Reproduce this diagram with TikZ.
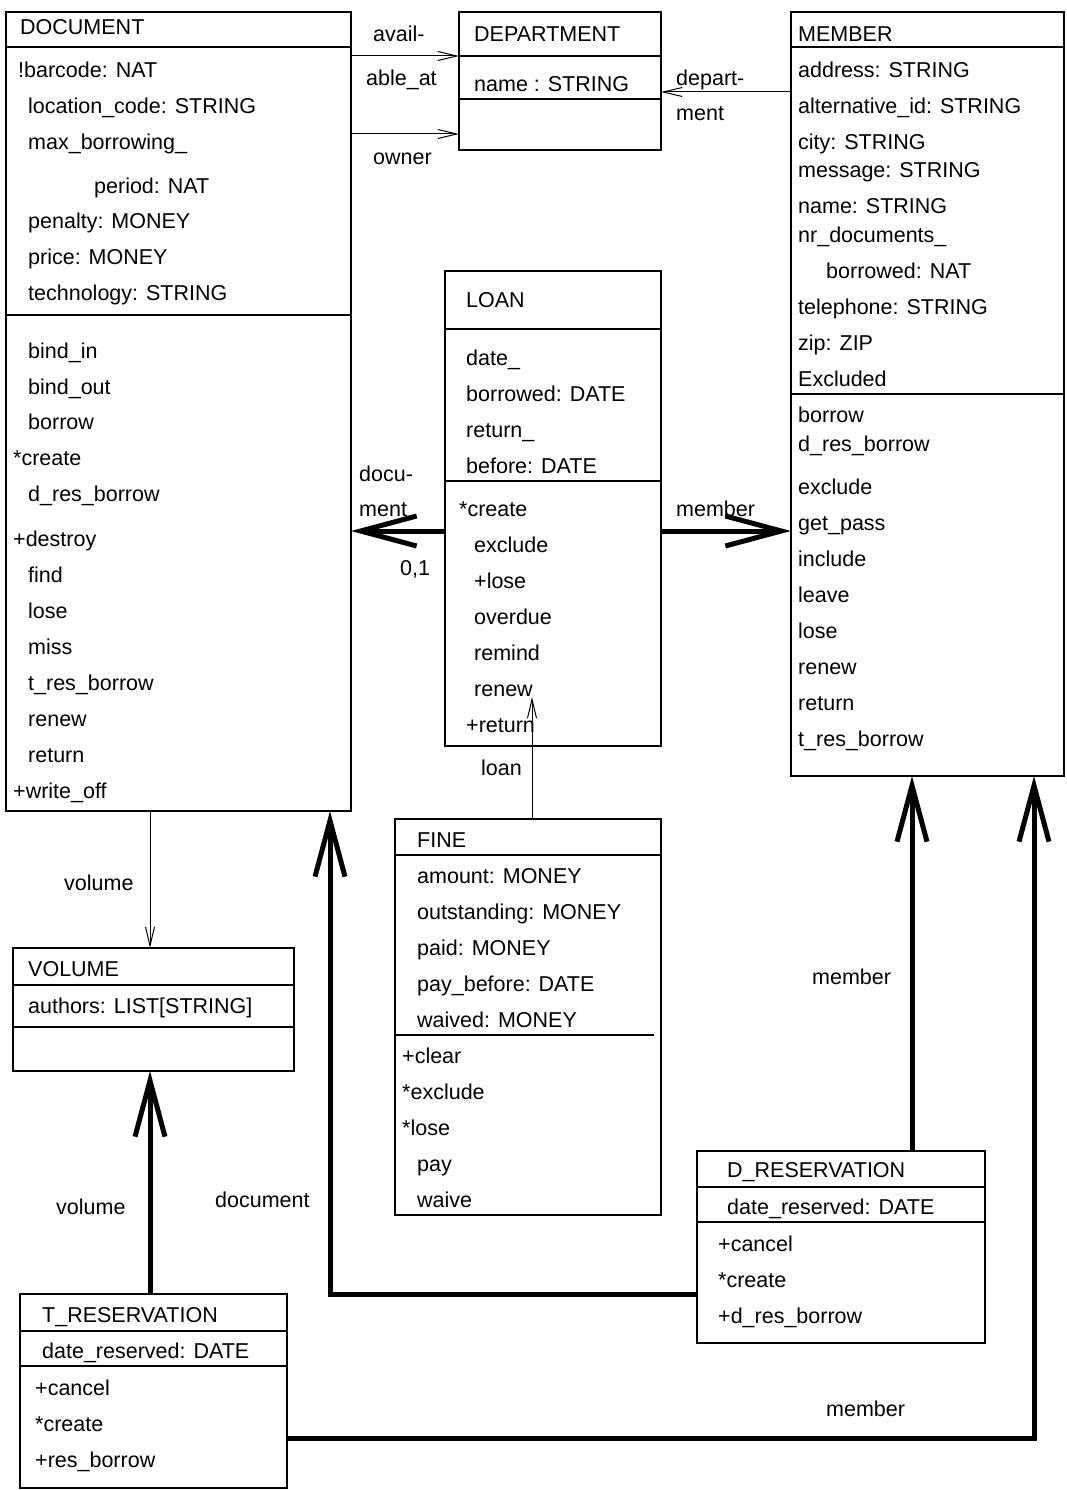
\documentclass[tikz,border=0pt]{standalone}
\usepackage{fontspec}
\setmainfont{Liberation Sans}
\usetikzlibrary{arrows.meta}
\begin{document}
\begin{tikzpicture}[x=1pt,y=-1pt,
  every node/.style={font=\fontsize{21.5}{26}\selectfont},
  cls/.style={draw, line width=1.3pt, rectangle, anchor=north west, inner sep=0pt, outer sep=0pt},
  rule/.style={line width=1.3pt},
  lbl/.style={anchor=base west, inner sep=0pt},
  assoc/.style={line width=1pt, -{Straight Barb[length=19pt,width=9pt,sharp]}},
  agg/.style={line width=5pt, line join=miter, -{Straight Barb[length=56pt,width=30pt,sharp]}},
]
\useasboundingbox (0,0) rectangle (1066,1490);

% ---------- class frames ----------
\node[cls, minimum width=345pt, minimum height=799pt] (doc)  at (6,12) {};
\node[cls, minimum width=202pt, minimum height=138pt] (dept) at (459,12) {};
\node[cls, minimum width=273pt, minimum height=764pt] (mem)  at (791,12) {};
\node[cls, minimum width=216pt, minimum height=475pt] (loan) at (445,271) {};
\node[cls, minimum width=266pt, minimum height=396pt] (fine) at (395,819) {};
\node[cls, minimum width=281pt, minimum height=123pt] (vol)  at (13,948) {};
\node[cls, minimum width=288pt, minimum height=192pt] (dres) at (697,1151) {};
\node[cls, minimum width=267pt, minimum height=194pt] (tres) at (20,1294) {};

% ---------- compartment dividers ----------
\draw[rule] (6,47) -- (351,47);   \draw[rule] (6,315) -- (351,315);
\draw[rule] (459,56) -- (661,56); \draw[rule] (459,99) -- (661,99);
\draw[rule] (791,47) -- (1064,47); \draw[rule] (791,394) -- (1064,394);
\draw[rule] (445,329) -- (661,329); \draw[rule] (445,481) -- (661,481);
\draw[rule] (395,855) -- (661,855); \draw[rule] (395,1035) -- (654,1035);
\draw[rule] (13,985) -- (294,985); \draw[rule] (13,1027) -- (294,1027);
\draw[rule] (697,1187) -- (985,1187); \draw[rule] (697,1222) -- (985,1222);
\draw[rule] (20,1331) -- (287,1331); \draw[rule] (20,1366) -- (287,1366);

% ---------- DOCUMENT ----------
\foreach \x/\y/\t [count=\i] in {
  20/27/DOCUMENT,
  18/70/!barcode: NAT, 28/106/location\_code: STRING, 28/142/max\_borrowing\_,
  94/186/period: NAT, 28/221/penalty: MONEY, 28/257/price: MONEY,
  28/293/technology: STRING,
  28/351/bind\_in, 28/387/bind\_out, 28/422/borrow, 13/458/*create,
  28/494/d\_res\_borrow, 13/539/+destroy, 28/575/find, 28/611/lose,
  28/647/miss, 28/683/t\_res\_borrow, 28/719/renew, 28/755/return,
  13/791/+write\_off}
  \node[lbl] (doc-\i) at (\x,\y+7.5) {\t};

% ---------- DEPARTMENT ----------
\foreach \x/\y/\t [count=\i] in {474/34/DEPARTMENT, 474/84/name : STRING}
  \node[lbl] (dept-\i) at (\x,\y+7.5) {\t};

% ---------- MEMBER ----------
\foreach \x/\y/\t [count=\i] in {
  798/34/MEMBER,
  798/70/address: STRING, 798/106/alternative\_id: STRING, 798/142/city: STRING,
  798/170/message: STRING, 798/206/name: STRING, 798/235/nr\_documents\_,
  826/271/borrowed: NAT, 798/307/telephone: STRING, 798/343/zip: ZIP,
  798/379/Excluded,
  798/415/borrow, 798/444/d\_res\_borrow, 798/487/exclude, 798/523/get\_pass,
  798/559/include, 798/595/leave, 798/631/lose, 798/667/renew,
  798/703/return, 798/739/t\_res\_borrow}
  \node[lbl] (mem-\i) at (\x,\y+7.5) {\t};

% ---------- LOAN ----------
\foreach \x/\y/\t [count=\i] in {
  466/300/LOAN,
  466/358/date\_, 466/394/borrowed: DATE, 466/430/return\_, 466/466/before: DATE,
  459/509/*create, 474/545/exclude, 474/581/+lose, 474/617/overdue,
  474/653/remind, 474/689/renew, 466/725/+return}
  \node[lbl] (loan-\i) at (\x,\y+7.5) {\t};

% ---------- FINE ----------
\foreach \x/\y/\t [count=\i] in {
  417/840/FINE,
  417/876/amount: MONEY, 417/912/outstanding: MONEY, 417/948/paid: MONEY,
  417/984/pay\_before: DATE, 417/1020/waived: MONEY,
  402/1056/+clear, 402/1092/*exclude, 402/1128/*lose, 417/1164/pay, 417/1200/waive}
  \node[lbl] (fine-\i) at (\x,\y+7.5) {\t};

% ---------- VOLUME ----------
\foreach \x/\y/\t [count=\i] in {28/969/VOLUME, 28/1006/authors: LIST[STRING]}
  \node[lbl] (vol-\i) at (\x,\y+7.5) {\t};

% ---------- D_RESERVATION ----------
\foreach \x/\y/\t [count=\i] in {
  727/1170/D\_RESERVATION, 727/1207/date\_reserved: DATE,
  718/1244/+cancel, 718/1280/*create, 718/1316/+d\_res\_borrow}
  \node[lbl] (dres-\i) at (\x,\y+7.5) {\t};

% ---------- T_RESERVATION ----------
\foreach \x/\y/\t [count=\i] in {
  42/1315/T\_RESERVATION, 42/1351/date\_reserved: DATE,
  35/1388/+cancel, 35/1424/*create, 35/1460/+res\_borrow}
  \node[lbl] (tres-\i) at (\x,\y+7.5) {\t};

% ---------- routing rows and columns ----------
\coordinate (rAvail) at (0,56);
\coordinate (rOwner) at (0,134);
\coordinate (rDept)  at (0,92);
\coordinate (rLoan)  at (0,531);
\coordinate (loanTip) at (532,697);
\coordinate (cVol)   at (150,0);
\coordinate (cDoc)   at (330,0);
\coordinate (rDres)  at (0,1294);
\coordinate (cDmem)  at (912,0);
\coordinate (rTres)  at (0,1438);
\coordinate (cTmem)  at (1034,0);

% ---------- associations ----------
\draw[assoc] (doc.east |- rAvail) -- (dept.west |- rAvail);
\draw[assoc] (doc.east |- rOwner) -- (dept.west |- rOwner);
\draw[assoc] (mem.west |- rDept) -- (dept.east |- rDept);
\draw[agg] (loan.west |- rLoan) -- (doc.east |- rLoan);
\draw[agg] (loan.east |- rLoan) -- (mem.west |- rLoan);
\draw[assoc] (fine.north -| loanTip) -- (loanTip);
\draw[assoc] (doc.south -| cVol) -- (vol.north -| cVol);
\draw[agg] (tres.north -| cVol) -- (vol.south -| cVol);
\draw[agg] (dres.west |- rDres) -| (doc.south -| cDoc);
\draw[agg] (dres.north -| cDmem) -- (mem.south -| cDmem);
\draw[agg] (tres.east |- rTres) -| (mem.south -| cTmem);

% ---------- association labels ----------
\node[lbl] (l-avail)  at (373,41.5)   {avail-};
\node[lbl] (l-ableat) at (366,85.5)   {able\_at};
\node[lbl] (l-owner)  at (373,164.5)  {owner};
\node[lbl] (l-dep1)   at (676,85.5)   {depart-};
\node[lbl] (l-dep2)   at (676,120.5)  {ment};
\node[lbl] (l-docu1)  at (359,481.5)  {docu-};
\node[lbl] (l-docu2)  at (359,516.5)  {ment};
\node[lbl] (l-card)   at (400,575.5)  {0,1};
\node[lbl] (l-mem1)   at (676,516.5)  {member};
\node[lbl] (l-loan)   at (481,775.5)  {loan};
\node[lbl] (l-vol1)   at (64,890.5)   {volume};
\node[lbl] (l-mem2)   at (812,984.5)  {member};
\node[lbl] (l-doc)    at (215,1207.5) {document};
\node[lbl] (l-vol2)   at (56,1214.5)  {volume};
\node[lbl] (l-mem3)   at (826,1416.5) {member};
\end{tikzpicture}
\end{document}
